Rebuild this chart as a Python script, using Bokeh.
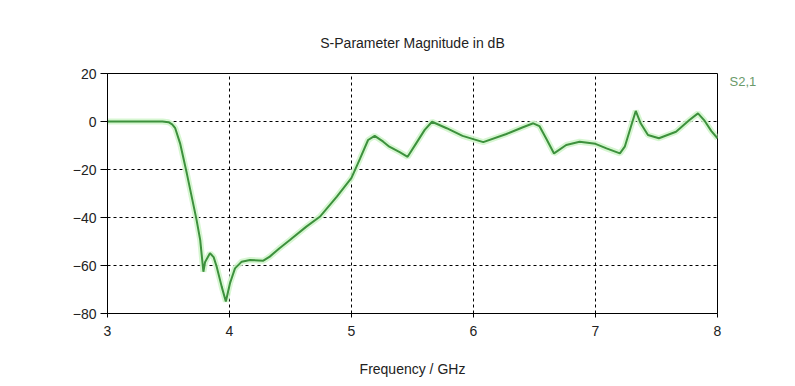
from bokeh.plotting import figure
from bokeh.models import Range1d, FixedTicker, LinearAxis
from bokeh.embed import file_html
from bokeh.resources import INLINE

freq_ghz = [3.00, 3.30, 3.45, 3.50, 3.53, 3.555, 3.595, 3.65, 3.69, 3.73, 3.76, 3.786,
            3.80, 3.84, 3.87, 3.895, 3.936, 3.97, 4.004, 4.045, 4.10, 4.168, 4.277,
            4.33, 4.41, 4.495, 4.63, 4.74, 4.88, 5.00, 5.07, 5.136, 5.19, 5.26, 5.31,
            5.395, 5.46, 5.53, 5.60, 5.66, 5.78, 5.91, 6.08, 6.27, 6.40, 6.49, 6.54,
            6.60, 6.66, 6.76, 6.87, 7.00, 7.09, 7.20, 7.24, 7.29, 7.33, 7.37, 7.43,
            7.52, 7.66, 7.77, 7.84, 7.89, 7.95, 8.00]
s21_db = [0.0, 0.0, 0.0, -0.3, -1.2, -2.8, -9.1, -21.6, -31.3, -41.0, -49.4, -62.6,
          -58.5, -54.9, -56.5, -60.5, -68.8, -75.0, -67.4, -61.2, -58.4, -57.7, -58.0,
          -56.3, -52.8, -49.4, -43.8, -39.7, -31.3, -23.5, -15.5, -7.7, -6.0, -8.4, -10.5,
          -12.8, -14.7, -9.1, -3.5, -0.1, -2.8, -6.0, -8.6, -5.2, -2.5, -0.75, -1.9,
          -7.5, -13.3, -9.8, -8.4, -9.3, -11.2, -13.3, -10.5, -2.2, 4.4, -0.75, -5.6,
          -7.0, -4.25, 0.6, 3.4, 0.6, -4.0, -7.0]
x_ticks = [3, 4, 5, 6, 7, 8]
y_ticks = [20, 0, -20, -40, -60, -80]
title_text = "S-Parameter Magnitude in dB"
x_label = "Frequency / GHz"
legend_text = "S2,1"
legend_level_db = 16.5

FONT = "Liberation Sans"

p = figure(width=795, height=386, output_backend="svg", toolbar_location=None,
           x_range=Range1d(3, 8), y_range=Range1d(-80, 20),
           min_border_left=107, min_border_right=78, min_border_top=73, min_border_bottom=73)
p.background_fill_color = "white"
p.border_fill_color = "white"
p.outline_line_color = "black"
p.outline_line_width = 1

p.title.text = title_text
p.title.align = "center"
p.title.text_font = FONT
p.title.text_font_size = "14px"
p.title.text_font_style = "normal"
p.title.text_color = "#222222"
p.title.standoff = 46

for ax in (p.xaxis[0], p.yaxis[0]):
    ax.axis_line_color = "black"
    ax.major_tick_line_color = "black"
    ax.minor_tick_line_color = None
    ax.major_tick_in = 0
    ax.major_label_text_font = FONT
    ax.major_label_text_font_size = "14px"
    ax.major_label_text_color = "#222222"

p.xaxis.ticker = FixedTicker(ticks=x_ticks)
p.yaxis.ticker = FixedTicker(ticks=y_ticks)
p.xaxis.major_tick_out = 4
p.yaxis.major_tick_out = 7
p.xaxis.major_label_standoff = 8
p.yaxis.major_label_standoff = 4
p.xaxis.axis_label = x_label
p.xaxis.axis_label_text_font = FONT
p.xaxis.axis_label_text_font_size = "14px"
p.xaxis.axis_label_text_font_style = "normal"
p.xaxis.axis_label_text_color = "#222222"
p.xaxis.axis_label_standoff = 22

for g in (p.xgrid[0], p.ygrid[0]):
    g.grid_line_color = "black"
    g.grid_line_dash = "3 3"
    g.grid_line_width = 1

p.line(freq_ghz, s21_db, line_color="#d2f5cc", line_width=6, line_alpha=0.9)
p.line(freq_ghz, s21_db, line_color="#3d913d", line_width=2)

# series name shown at the right of the frame, like the reference's legend
name_axis = LinearAxis(ticker=FixedTicker(ticks=[legend_level_db]),
                       major_label_overrides={legend_level_db: legend_text},
                       axis_line_color=None, major_tick_line_color=None,
                       minor_tick_line_color=None, major_tick_in=0, major_tick_out=0,
                       major_label_standoff=12, major_label_text_font=FONT,
                       major_label_text_font_size="13px", major_label_text_color="#6a9a6a")
p.add_layout(name_axis, "right")

open("out.html", "w").write(file_html(p, INLINE))
